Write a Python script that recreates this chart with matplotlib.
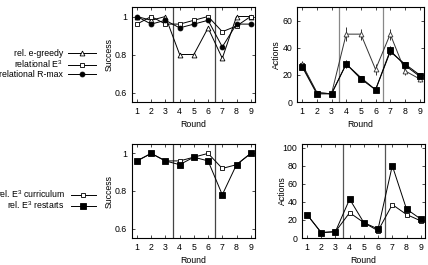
import matplotlib
matplotlib.use("Agg")
import matplotlib.pyplot as plt

plt.rcParams['font.family'] = ['Liberation Sans', 'DejaVu Sans']
plt.rcParams['mathtext.fontset'] = 'custom'
plt.rcParams['mathtext.rm'] = 'Liberation Sans'
plt.rcParams['mathtext.it'] = 'Liberation Sans'

rounds = [1, 2, 3, 4, 5, 6, 7, 8, 9]
round_labels = ['1', '2', '3', '4', '5', '6', '7', '8', '9']

# Top-left: success
succ_egreedy = [1.0, 0.98, 1.0, 0.80, 0.80, 0.94, 0.78, 1.0, 1.0]
succ_e3 = [0.96, 1.0, 0.96, 0.96, 0.98, 1.0, 0.92, 0.95, 1.0]
succ_rmax = [1.0, 0.96, 0.98, 0.94, 0.96, 0.98, 0.84, 0.96, 0.96]

# Top-right: actions
act_egreedy = [28, 7, 6, 50, 50, 24, 50, 23, 17]
act_egreedy_err = [2, 1, 1, 5, 4, 4, 4, 3, 2]
act_e3 = [27, 7, 6, 28, 18, 9, 37, 28, 20]
act_rmax = [26, 6, 6, 28, 17, 9, 38, 27, 19]
act_rmax_err = [1, 1, 1, 3, 2, 1, 3, 2, 1]

# Bottom-left: success
succ_curr = [0.96, 1.0, 0.96, 0.96, 0.98, 1.0, 0.92, 0.94, 1.0]
succ_restart = [0.96, 1.0, 0.96, 0.94, 0.98, 0.96, 0.78, 0.94, 1.0]

# Bottom-right: actions
act_curr = [26, 6, 7, 28, 17, 8, 37, 26, 19]
act_restart = [26, 6, 7, 43, 17, 10, 80, 32, 21]

phase_bounds = [3.5, 6.5]

W, H = 428, 265
fig = plt.figure(figsize=(W / 100, H / 100), dpi=100)

def px_axes(l, t, r, b):
    return fig.add_axes([l / W, 1 - b / H, (r - l) / W, (b - t) / H])

ax_tl = px_axes(132, 7, 255, 102)
ax_tr = px_axes(297, 7, 424, 102)
ax_bl = px_axes(132, 144, 255, 238)
ax_br = px_axes(302, 144, 425, 238)

FS = 6.3
lw = 0.7
ms = 3.5

def style(ax, ylabel, yticks, ylim, vcolor, ylx):
    ax.set_xlim(0.65, 9.3)
    ax.set_ylim(*ylim)
    ax.set_xticks(rounds)
    ax.set_xticklabels(round_labels)
    ax.set_yticks(yticks)
    ax.set_yticklabels([('%g' % v) for v in yticks])
    ax.tick_params(direction='in', top=True, right=True, length=2.5, width=0.5,
                   labelsize=FS, pad=3.5)
    ax.set_xlabel('Round', fontsize=FS)
    ax.set_ylabel(ylabel, fontsize=FS)
    ax.xaxis.set_label_coords(0.5, -0.19)
    ax.yaxis.set_label_coords(ylx, 0.5)
    for sp in ax.spines.values():
        sp.set_linewidth(0.8)
    for xb in phase_bounds:
        ax.axvline(xb, color=vcolor, lw=0.9, zorder=1)

# Top-left
l1, = ax_tl.plot(rounds, succ_egreedy, color='black', lw=lw, marker='^', ms=ms,
                 mfc='white', mew=0.6, label='rel. e-greedy', zorder=3)
l2, = ax_tl.plot(rounds, succ_e3, color='black', lw=lw, marker='s', ms=ms,
                 mfc='white', mew=0.6, label='relational E$^3$', zorder=3)
l3, = ax_tl.plot(rounds, succ_rmax, color='black', lw=lw, marker='o', ms=ms,
                 mfc='black', mew=0.6, label='relational R-max', zorder=4)
style(ax_tl, 'Success', [0.6, 0.8, 1.0], (0.55, 1.05), '#444444', -0.15)

# Top-right
ax_tr.errorbar(rounds, act_egreedy, yerr=act_egreedy_err, color='#333333', lw=lw,
               marker='^', ms=ms, mfc='white', mew=0.6, elinewidth=0.7, capsize=0, zorder=3)
ax_tr.plot(rounds, act_e3, color='black', lw=lw, marker='s', ms=ms,
           mfc='white', mew=0.6, zorder=3)
ax_tr.errorbar(rounds, act_rmax, yerr=act_rmax_err, color='black', lw=lw,
               marker='s', ms=ms + 0.5, mfc='black', mew=0.6, elinewidth=0.7, capsize=0, zorder=4)
style(ax_tr, 'Actions', [0, 20, 40, 60], (0, 70), '#888888', -0.126)

# Bottom-left
b1, = ax_bl.plot(rounds, succ_curr, color='black', lw=lw, marker='s', ms=ms,
                 mfc='white', mew=0.6, label='rel. E$^3$ curriculum', zorder=3)
b2, = ax_bl.plot(rounds, succ_restart, color='black', lw=lw, marker='s', ms=ms + 0.5,
                 mfc='black', mew=0.6, label='rel. E$^3$ restarts', zorder=4)
style(ax_bl, 'Success', [0.6, 0.8, 1.0], (0.55, 1.05), '#444444', -0.15)

# Bottom-right
ax_br.plot(rounds, act_curr, color='black', lw=lw, marker='s', ms=ms,
           mfc='white', mew=0.6, zorder=3)
ax_br.plot(rounds, act_restart, color='black', lw=lw, marker='s', ms=ms + 0.5,
           mfc='black', mew=0.6, zorder=4)
style(ax_br, 'Actions', [0, 20, 40, 60, 80, 100], (0, 104), '#555555', -0.126)

# Legends
fig.legend(handles=[l1, l2, l3], markerfirst=False, frameon=False,
           loc='upper right', bbox_to_anchor=(96 / W, 1 - 49.5 / H),
           fontsize=FS, handlelength=3.2, handletextpad=0.6, labelspacing=0.0,
           borderpad=0, borderaxespad=0)
fig.legend(handles=[b1, b2], markerfirst=False, frameon=False,
           loc='upper right', bbox_to_anchor=(96 / W, 1 - 188 / H),
           fontsize=FS, handlelength=2.9, handletextpad=0.65, labelspacing=0.0,
           borderpad=0, borderaxespad=0)

fig.savefig('out.png', dpi=100)
